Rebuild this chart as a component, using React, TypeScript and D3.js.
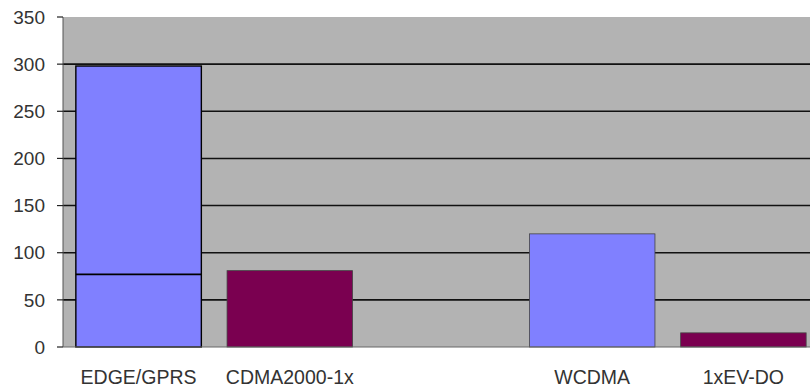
import React, { useEffect, useRef } from 'react'
import * as d3 from 'd3'

// slots: the empty string keeps the gap between the two pairs
const categories = ['EDGE/GPRS', 'CDMA2000-1x', '', 'WCDMA', '1xEV-DO']
const values = [298, 81, null, 120, 15]
const innerMarks = [77, null, null, null, null]
const barColors = ['#8080ff', '#7a0050', null, '#8080ff', '#7a0050']
const yTicks = [0, 50, 100, 150, 200, 250, 300, 350]

export default function App() {
  const ref = useRef<SVGSVGElement>(null)

  useEffect(() => {
    const svg = d3.select(ref.current)
    svg.selectAll('*').remove()

    const width = 810
    const height = 387
    const left = 63
    const top = 17
    const bottom = 347

    const x = d3.scaleBand<string>()
      .domain(categories.map((c, i) => c || 'gap' + i))
      .range([left, left + 5 * 151.2])
      .paddingInner(0.17)
      .paddingOuter(0.085)
    const y = d3.scaleLinear().domain([0, 350]).range([bottom, top])

    svg.append('rect')
      .attr('x', left).attr('y', top)
      .attr('width', width - left).attr('height', bottom - top)
      .attr('fill', '#b3b3b3')

    // gridlines
    svg.append('g').selectAll('line')
      .data(yTicks.filter(t => t > 0 && t < 350))
      .join('line')
      .attr('x1', left).attr('x2', width)
      .attr('y1', d => y(d)).attr('y2', d => y(d))
      .attr('stroke', '#111').attr('stroke-width', 1.6)

    const keys = x.domain()
    const bars = svg.append('g')
    values.forEach((v, i) => {
      if (v == null) return
      const bx = x(keys[i])!
      bars.append('rect')
        .attr('x', bx).attr('y', y(v))
        .attr('width', x.bandwidth()).attr('height', y(0) - y(v))
        .attr('fill', barColors[i]!)
        .attr('stroke', i === 0 ? '#000' : '#444')
        .attr('stroke-width', i === 0 ? 1.4 : 0.8)
      const m = innerMarks[i]
      if (m != null) {
        bars.append('line')
          .attr('x1', bx).attr('x2', bx + x.bandwidth())
          .attr('y1', y(m)).attr('y2', y(m))
          .attr('stroke', '#000').attr('stroke-width', 1.6)
      }
    })

    // y axis
    const ax = svg.append('g')
    ax.append('line')
      .attr('x1', left).attr('x2', left)
      .attr('y1', top).attr('y2', bottom)
      .attr('stroke', '#555')
    ax.append('line')
      .attr('x1', left).attr('x2', width)
      .attr('y1', bottom).attr('y2', bottom)
      .attr('stroke', '#666')
    ax.selectAll('line.tick')
      .data(yTicks)
      .join('line')
      .attr('class', 'tick')
      .attr('x1', left - 6).attr('x2', left)
      .attr('y1', d => y(d)).attr('y2', d => y(d))
      .attr('stroke', '#222').attr('stroke-width', 1.2)
    ax.selectAll('text')
      .data(yTicks)
      .join('text')
      .attr('x', 45)
      .attr('y', d => y(d))
      .attr('dy', '0.35em')
      .attr('text-anchor', 'end')
      .attr('font-family', 'Liberation Sans, Arial, sans-serif')
      .attr('font-size', 19)
      .attr('fill', '#333')
      .text(d => d)

    svg.append('g').selectAll('text')
      .data(categories.map((c, i) => ({ c, k: keys[i] })).filter(d => d.c))
      .join('text')
      .attr('x', d => x(d.k)! + x.bandwidth() / 2)
      .attr('y', 384)
      .attr('text-anchor', 'middle')
      .attr('font-family', 'Liberation Sans, Arial, sans-serif')
      .attr('font-size', 19.5)
      .attr('fill', '#333')
      .text(d => d.c)
  }, [])

  return (
    <>
      <style>{'body{margin:0;background:#fff}'}</style>
      <svg ref={ref} width={810} height={387} style={{ display: 'block' }} />
    </>
  )
}
